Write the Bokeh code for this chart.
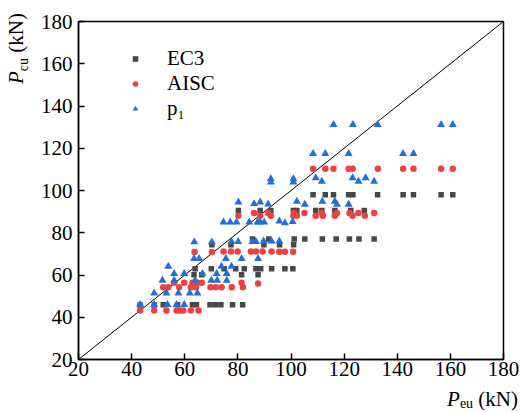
from bokeh.plotting import figure
from bokeh.models import ColumnDataSource, FixedTicker, Div
from bokeh.layouts import row, column
from bokeh.embed import file_html
from bokeh.resources import INLINE

# ---------------- data ----------------
ticks = [20, 40, 60, 80, 100, 120, 140, 160, 180]
diag_x = [20, 180]
diag_y = [20, 180]

ec3_x = [43.2, 48.5, 51.9, 57.3, 62.9, 64.4, 69.5, 71.5, 73.6, 78.0, 81.8,
         63.5, 66.4, 81.4, 87.6,
         63.9, 70.0, 74.8, 79.2, 82.4, 86.8, 88.6, 92.7, 97.7, 100.7,
         70.2, 77.4, 89.8, 95.7, 101.0,
         85.5, 91.6, 101.2, 105.2, 111.8, 117.0, 122.0, 125.6, 131.3,
         80.2, 88.4, 92.4, 100.9, 102.2, 109.3, 111.6, 116.5, 122.5, 127.6,
         108.3, 112.9, 116.0, 121.7, 123.3, 132.6, 142.2, 146.1, 156.5, 160.9]
ec3_y = [45.8, 45.8, 45.9, 45.9, 45.9, 45.9, 45.9, 45.9, 45.9, 45.9, 45.9,
         60.1, 60.1, 60.1, 60.1,
         62.9, 62.9, 62.9, 62.9, 62.9, 62.9, 62.9, 62.9, 62.9, 62.9,
         74.3, 74.3, 74.3, 74.3, 74.3,
         77.1, 77.1, 77.1, 77.1, 77.1, 77.1, 77.1, 77.1, 77.1,
         90.5, 90.5, 90.5, 90.5, 90.5, 90.5, 90.5, 90.5, 90.5, 90.5,
         98.0, 98.0, 98.0, 98.0, 98.0, 98.0, 98.0, 98.0, 98.0, 98.0]

aisc_x = [43.2, 48.5, 53.1, 56.9, 58.1, 59.4, 62.3, 65.2,
          51.9, 53.8, 57.9, 62.3, 64.2, 69.7, 71.7, 73.9, 77.7, 81.9,
          56.0, 59.8, 62.9, 64.8, 66.4, 81.4, 87.6,
          63.7, 70.2, 74.6, 77.4, 79.9, 84.9, 86.8, 89.3, 92.7, 95.6, 97.7, 100.8,
          80.2, 86.1, 88.4, 91.4, 92.4, 100.9, 101.2, 102.2, 105.1, 109.3,
          111.6, 112.0, 116.5, 117.3, 122.0, 123.2, 125.4, 127.8, 131.3,
          108.3, 112.9, 116.0, 121.7, 123.2, 132.7, 142.2, 146.1, 156.5, 160.9]
aisc_y = [43.2, 43.2, 43.2, 43.2, 43.2, 43.2, 43.2, 43.2,
          54.2, 54.2, 54.2, 54.2, 54.2, 54.2, 54.2, 54.2, 54.2, 54.2,
          56.3, 56.3, 56.3, 56.3, 56.3, 56.3, 56.0,
          70.9, 70.9, 71.1, 71.1, 71.1, 71.1, 71.1, 71.1, 71.1, 71.0, 71.0, 71.0,
          88.1, 89.3, 88.1, 89.3, 88.1, 88.1, 89.3, 88.0, 89.3, 88.0,
          89.3, 88.0, 88.0, 89.3, 89.3, 88.0, 89.3, 88.0, 89.3,
          110.3, 110.3, 110.3, 110.3, 110.3, 110.3, 110.3, 110.3, 110.3, 110.3]

p1_x = [43.2, 48.5, 53.5, 56.9, 59.8,
        48.5, 53.1, 57.6, 61.9, 64.8,
        51.6, 56.0, 63.9, 70.0, 72.2, 75.8,
        56.0, 59.8, 66.7, 72.0, 75.8,
        53.8, 73.8, 77.6,
        63.5, 65.4, 75.5, 81.4, 87.6,
        63.6, 70.2, 77.6, 80.1, 85.5, 86.8, 89.7, 92.7, 95.6,
        74.6, 77.1, 79.5, 84.3, 87.4, 88.4, 89.9, 95.6, 97.7, 100.6,
        80.2, 86.1, 88.4, 91.4, 102.2, 105.2, 111.8, 116.5, 117.3, 121.7,
        92.4, 92.4, 100.9, 100.9, 109.3, 111.6, 123.2, 125.4, 128.1, 131.3,
        108.3, 112.9, 121.7, 142.2, 146.1,
        116.0, 123.3, 132.6, 156.5, 160.9]
p1_y = [46.0, 46.0, 46.0, 46.0, 46.0,
        51.4, 51.4, 51.4, 51.4, 51.4,
        57.4, 57.4, 57.4, 57.4, 57.4, 57.4,
        60.6, 60.6, 60.6, 60.6, 60.6,
        64.1, 64.1, 64.1,
        67.7, 67.7, 67.7, 67.7, 67.7,
        75.6, 75.6, 75.8, 75.8, 75.8, 75.8, 76.0, 76.0, 76.0,
        85.0, 85.0, 85.0, 85.0, 85.0, 85.0, 85.0, 85.5, 84.6, 85.2,
        94.5, 93.7, 94.5, 93.5, 94.8, 93.4, 94.8, 94.8, 93.4, 93.4,
        105.5, 103.9, 105.5, 103.9, 106.0, 104.3, 106.0, 104.3, 106.0, 104.3,
        117.4, 117.4, 117.4, 117.4, 117.4,
        131.2, 131.2, 131.2, 131.2, 131.2]

# ---------------- layout sizes ----------------
W, H = 520, 412
YT_W = 30          # strip left of the figure that holds the y title
XT_H = 24          # strip below the figure that holds the x title
FIG_W, FIG_H = W - YT_W, H - XT_H
FRAME_L, FRAME_T, FRAME_W, FRAME_H = 78, 21, 425, 338   # in window pixels
FONT = "Liberation Serif"

p = figure(width=FIG_W, height=FIG_H, x_range=(20, 180), y_range=(20, 180),
           output_backend="svg", toolbar_location=None)
p.min_border_left = FRAME_L - YT_W
p.min_border_top = FRAME_T
p.min_border_right = W - FRAME_L - FRAME_W
p.min_border_bottom = FIG_H - FRAME_T - FRAME_H
p.background_fill_color = "white"
p.border_fill_color = "white"
p.outline_line_color = "black"
p.outline_line_width = 1.5
p.grid.visible = False

for ax in (p.xaxis[0], p.yaxis[0]):
    ax.ticker = FixedTicker(ticks=ticks)
    ax.axis_line_width = 1.5
    ax.axis_line_color = "black"
    ax.major_tick_in = 6
    ax.major_tick_out = 0
    ax.major_tick_line_width = 1.5
    ax.minor_tick_line_color = None
    ax.major_label_text_font = FONT
    ax.major_label_text_font_size = "21px"
    ax.major_label_text_color = "black"
p.xaxis.major_label_standoff = 2
p.yaxis.major_label_standoff = 6

p.line(diag_x, diag_y, line_color="black", line_width=1)

s_ec3 = ColumnDataSource(dict(x=ec3_x, y=ec3_y))
s_aisc = ColumnDataSource(dict(x=aisc_x, y=aisc_y))
s_p1 = ColumnDataSource(dict(x=p1_x, y=p1_y))

p.scatter("x", "y", source=s_ec3, marker="square", size=5.5,
          fill_color="#474747", line_color=None, legend_label="EC3")
p.scatter("x", "y", source=s_aisc, marker="circle", size=6.5,
          fill_color="#f0413f", line_color=None, legend_label="AISC")
p.scatter("x", "y", source=s_p1, marker="triangle", size=8,
          fill_color="#1f6fdc", line_color=None, legend_label="p\u2081")

lg = p.legend[0]
lg.location = (50, 238)
lg.background_fill_alpha = 0
lg.border_line_color = None
lg.label_text_font = FONT
lg.label_text_font_size = "21px"
lg.label_text_color = "black"
lg.glyph_width = 14
lg.glyph_height = 25
lg.label_height = 25
lg.label_standoff = 25
lg.spacing = 0
lg.padding = 10
lg.margin = 0

# ---------------- axis titles (real text, HTML) ----------------
TXT = ("font-family:'Liberation Serif',serif; font-size:21px; line-height:21px;"
       " color:#000; white-space:nowrap;")

y_title_html = (
    f'<div style="position:relative; width:{YT_W}px; height:{FIG_H}px; overflow:hidden;">'
    f'<div style="position:absolute; left:6px; top:84px; transform-origin:0 0;'
    f' transform:rotate(-90deg); {TXT}">'
    '<i>P</i><span style="font-size:14px; line-height:0; vertical-align:-5px;">cu</span>'
    ' (kN)</div></div>'
)
x_title_html = (
    f'<div style="position:relative; width:{W}px; height:{XT_H}px;">'
    f'<div style="position:absolute; right:2px; top:1px; {TXT}">'
    '<i>P</i><span style="font-size:14px; line-height:0; vertical-align:-2px;">eu</span>'
    ' (kN)</div></div>'
)

y_title = Div(text=y_title_html, width=YT_W, height=FIG_H, margin=0)
x_title = Div(text=x_title_html, width=W, height=XT_H, margin=0)

layout = column(row(y_title, p, spacing=0), x_title, spacing=0)

open("out.html", "w").write(file_html(layout, INLINE))
